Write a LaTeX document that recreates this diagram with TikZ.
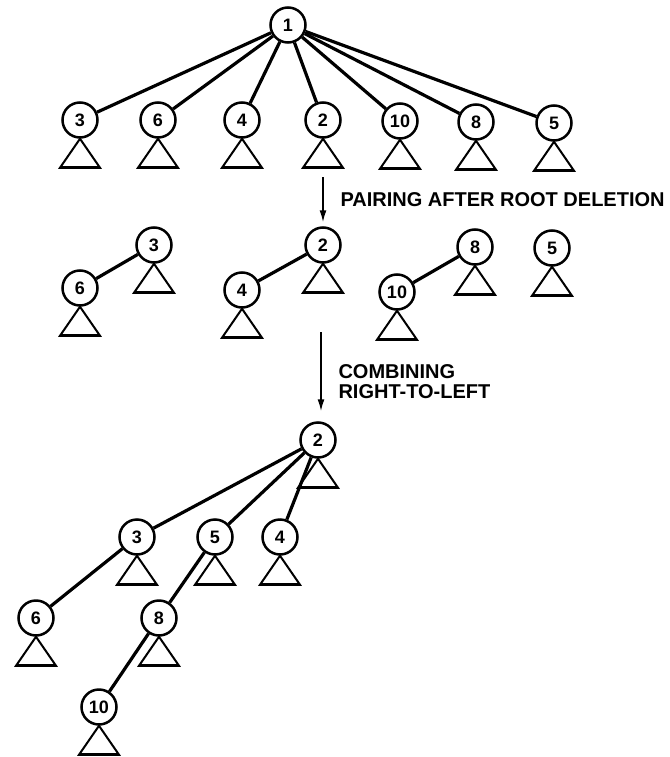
\documentclass[tikz,border=0pt]{standalone}
\usepackage{fontspec}
\setmainfont{Liberation Sans}
\usetikzlibrary{arrows.meta}

\tikzset{
  heapnode/.style={draw, circle, line width=2.5pt, minimum size=35pt, inner sep=0pt, font=\fontsize{18}{18}\selectfont\bfseries},
  treeedge/.style={line width=3.2pt},
  steptext/.style={anchor=west, align=left, font=\fontsize{20}{20}\selectfont\bfseries},
}

\begin{document}
\begin{tikzpicture}[x=1pt, y=-1pt]
\useasboundingbox (0,0) rectangle (669,757);

% heap before deletion
\node[heapnode] (t1) at (288,25) {1};
\node[heapnode] (t3) at (80,120) {3};
\node[heapnode] (t6) at (158,120) {6};
\node[heapnode] (t4) at (242,120) {4};
\node[heapnode] (t2) at (323,120) {2};
\node[heapnode] (t10) at (400,121) {10};
\node[heapnode] (t8) at (476,122) {8};
\node[heapnode] (t5) at (554,123) {5};

\path[draw,treeedge] (t1) -- (t3);
\path[draw,treeedge] (t1) -- (t6);
\path[draw,treeedge] (t1) -- (t4);
\path[draw,treeedge] (t1) -- (t2);
\path[draw,treeedge] (t1) -- (t10);
\path[draw,treeedge] (t1) -- (t8);
\path[draw,treeedge] (t1) -- (t5);

% after pairing
\node[heapnode] (m3) at (154,245) {3};
\node[heapnode] (m6) at (80,288) {6};
\node[heapnode] (m2) at (323,245) {2};
\node[heapnode] (m4) at (242,290) {4};
\node[heapnode] (m8) at (475,247) {8};
\node[heapnode] (m10) at (397,292) {10};
\node[heapnode] (m5) at (552,248) {5};

\path[draw,treeedge] (m3) -- (m6);
\path[draw,treeedge] (m2) -- (m4);
\path[draw,treeedge] (m8) -- (m10);

% after combining
\node[heapnode] (f2) at (318,440) {2};
\node[heapnode] (f3) at (137,537) {3};
\node[heapnode] (f5) at (215,537) {5};
\node[heapnode] (f4) at (280,537) {4};
\node[heapnode] (f6) at (36,618) {6};
\node[heapnode] (f8) at (159,618) {8};
\node[heapnode] (f10) at (99,707) {10};

% subtrees
\foreach \n in {t3,t6,t4,t2,t10,t8,t5,m3,m6,m2,m4,m8,m10,m5,f2,f3,f5,f4,f6,f8,f10} {
  \path[draw,line width=2pt] (\n.south) -- ++(-20,29) -- ++(40,0) -- cycle;
  \path[draw,line width=3pt] (\n.south) ++(-20,29) -- ++(40,0);
}

\path[draw,treeedge] (f2) -- (f3);
\path[draw,treeedge] (f2) -- (f5);
\path[draw,treeedge] (f2) -- (f4);
\path[draw,treeedge] (f3) -- (f6);
\path[draw,treeedge] (f5) -- (f8);
\path[draw,treeedge] (f8) -- (f10);

% steps
\coordinate (a1) at (323,177);
\coordinate (a2) at (321,332);
\path[draw,line width=1.6pt,->,>={Latex[length=12pt,width=7pt]},shorten >=4pt] (a1) -- (m2);
\path[draw,line width=1.6pt,->,>={Latex[length=12pt,width=7pt]},shorten >=10pt] (a2) -- (a2 |- f2.north);
\node[steptext] (s1) at (337,200) {PAIRING AFTER ROOT DELETION};
\node[steptext] (s2) at (335,382) {COMBINING\\RIGHT-TO-LEFT};
\end{tikzpicture}
\end{document}
